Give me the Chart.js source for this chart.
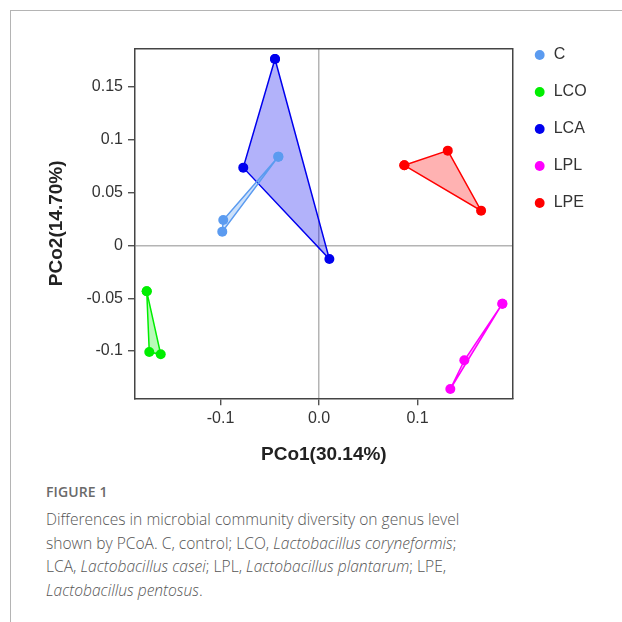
<!DOCTYPE html>
<html>
<head>
<meta charset="utf-8">
<script src="https://cdn.jsdelivr.net/npm/chart.js@4/dist/chart.umd.min.js"></script>
<style>
  html, body { margin: 0; padding: 0; background: #fff; width: 622px; height: 622px; overflow: hidden; }
  #frame { position: absolute; left: 10px; top: 10px; width: 640px; height: 640px;
           border-left: 1.5px solid #b4b4b4; border-top: 1.5px solid #b4b4b4; }
  #chart { position: absolute; left: 0; top: 0; }
  #fig { position: absolute; left: 46px; top: 482px; font-family: "Open Sans", "Noto Sans", sans-serif;
         font-size: 14px; font-weight: 600; color: #6a6a6a; letter-spacing: 0.1px; }
  #cap { position: absolute; left: 46px; top: 508px; width: 570px; font-family: "Open Sans", "Noto Sans", sans-serif;
         font-size: 15.6px; font-weight: 300; line-height: 23.6px; color: #555; white-space: nowrap; }
</style>
</head>
<body>
<div id="frame"></div>
<canvas id="chart" width="622" height="475"></canvas>
<div id="fig">FIGURE 1</div>
<div id="cap">Differences in microbial community diversity on genus level<br>shown by PCoA. C, control; LCO, <i>Lactobacillus coryneformis</i>;<br>LCA, <i>Lactobacillus casei</i>; LPL, <i>Lactobacillus plantarum</i>; LPE,<br><i>Lactobacillus pentosus</i>.</div>
<script>
// ---- data ----
const groups = ['C', 'LCO', 'LCA', 'LPL', 'LPE'];
const cX   = [-0.0413, -0.0972, -0.0982];
const cY   = [ 0.0841,  0.0241,  0.0131];
const lcoX = [-0.1749, -0.1723, -0.1607];
const lcoY = [-0.0434, -0.1009, -0.1030];
const lcaX = [-0.0447, -0.0769,  0.0105];
const lcaY = [ 0.1766,  0.0737, -0.0128];
const lplX = [ 0.1861,  0.1475,  0.1333];
const lplY = [-0.0551, -0.1087, -0.1359];
const lpeX = [ 0.0866,  0.1307,  0.1645];
const lpeY = [ 0.0759,  0.0898,  0.0330];

const xTicks = [-0.1, 0, 0.1];
const xTickLabels = ['-0.1', '0.0', '0.1'];
const yTicks = [0.15, 0.1, 0.05, 0, -0.05, -0.1];
const yTickLabels = ['0.15', '0.1', '0.05', '0', '-0.05', '-0.1'];
const xRange = [-0.1868, 0.1966];
const yRange = [-0.1447, 0.1867];
const xTitle = 'PCo1(30.14%)';
const yTitle = 'PCo2(14.70%)';

const colors = ['#5b9bf0', '#00ee00', '#0000ee', '#ff00ff', '#ff0000'];
const fills  = ['rgba(91,155,240,0.3)', 'rgba(0,238,0,0.28)', 'rgba(0,0,238,0.3)', 'rgba(255,0,255,0.3)', 'rgba(255,0,0,0.3)'];
const xs = [cX, lcoX, lcaX, lplX, lpeX];
const ys = [cY, lcoY, lcaY, lplY, lpeY];

function closedPoly(xArr, yArr) {
  const pts = xArr.map((x, i) => ({ x: x, y: yArr[i] }));
  pts.push({ x: xArr[0], y: yArr[0] });
  return pts;
}

const datasets = groups.map((g, i) => ({
  label: g,
  data: closedPoly(xs[i], ys[i]),
  borderColor: colors[i],
  backgroundColor: fills[i],
  pointBackgroundColor: colors[i],
  pointBorderColor: colors[i],
  pointBorderWidth: 0,
  pointRadius: 5,
  borderWidth: 1.5,
  tension: 0,
  fill: 'shape'
}));

const tickFont = { family: '"Liberation Sans", Arial, sans-serif', size: 16 };
const titleFont = { family: '"Liberation Sans", Arial, sans-serif', size: 19, weight: 'bold' };
const zeroGrid = (ctx) => (ctx.tick && ctx.tick.value === 0) ? '#b4b4b4' : 'rgba(0,0,0,0)';

new Chart(document.getElementById('chart'), {
  type: 'line',
  data: { datasets: datasets },
  options: {
    responsive: false,
    animation: false,
    layout: { padding: { left: 40, top: 26, right: 25.4, bottom: 0 } },
    plugins: {
      tooltip: { enabled: false },
      legend: {
        position: 'right',
        align: 'start',
        labels: {
          usePointStyle: true,
          pointStyle: 'circle',
          boxWidth: 12,
          boxHeight: 7,
          padding: 21,
          color: '#333',
          font: { family: '"Liberation Sans", Arial, sans-serif', size: 16 }
        }
      }
    },
    scales: {
      x: {
        type: 'linear',
        position: 'bottom',
        min: xRange[0], max: xRange[1],
        afterBuildTicks: (s) => { s.ticks = xTicks.map(v => ({ value: v })); },
        afterFit: (s) => { s.height = 76.7; },
        ticks: { callback: (v, i) => xTickLabels[i], color: '#333', font: tickFont, padding: 4, maxRotation: 0, autoSkip: false },
        grid: { color: zeroGrid, lineWidth: 1.5, tickColor: '#333', tickLength: 7, tickWidth: 1.2 },
        border: { display: true, color: '#444', width: 1.5 },
        title: { display: true, text: xTitle, color: '#222', font: titleFont, padding: { top: 0, bottom: 9 } }
      },
      x2: {
        type: 'linear',
        position: 'top',
        min: xRange[0], max: xRange[1],
        afterFit: (s) => { s.height = 22.3; },
        ticks: { display: false },
        grid: { display: false, drawTicks: false },
        border: { display: true, color: '#444', width: 1.5 }
      },
      y: {
        type: 'linear',
        position: 'left',
        min: yRange[0], max: yRange[1],
        afterBuildTicks: (s) => { s.ticks = yTicks.map(v => ({ value: v })); },
        afterFit: (s) => { s.width = 95; },
        ticks: { callback: (v, i) => yTickLabels[i], color: '#333', font: tickFont, padding: 5, autoSkip: false },
        grid: { color: zeroGrid, lineWidth: 1.5, tickColor: '#333', tickLength: 7, tickWidth: 1.2 },
        border: { display: true, color: '#444', width: 1.5 },
        title: { display: true, text: yTitle, color: '#222', font: titleFont, padding: { top: 5.6, bottom: 0 } }
      },
      y2: {
        type: 'linear',
        position: 'right',
        min: yRange[0], max: yRange[1],
        afterFit: (s) => { s.width = 0; },
        ticks: { display: false },
        grid: { display: false, drawTicks: false },
        border: { display: true, color: '#444', width: 1.5 }
      }
    }
  }
});
</script>
</body>
</html>
